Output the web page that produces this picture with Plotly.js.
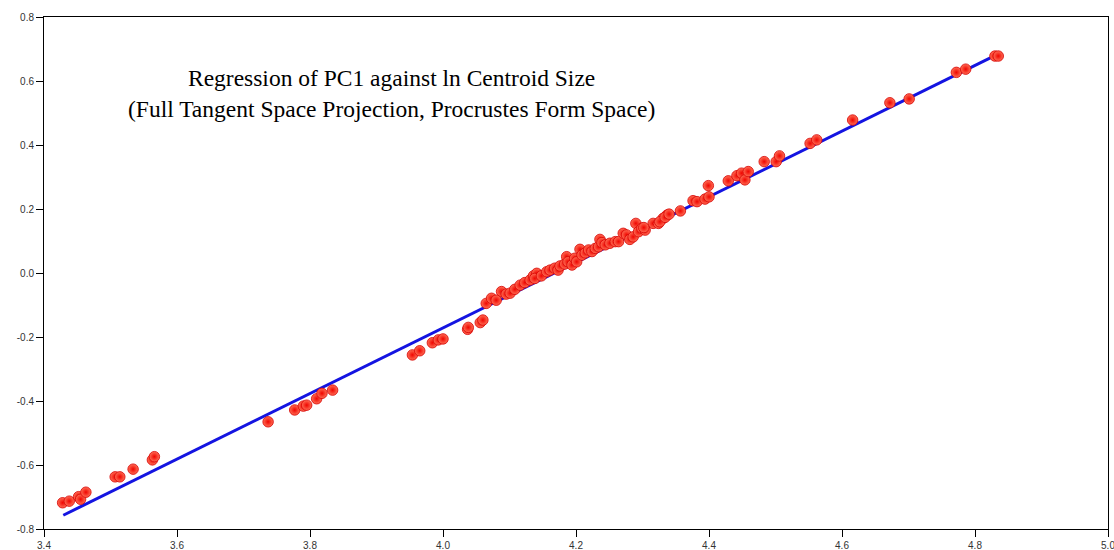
<!DOCTYPE html>
<html>
<head>
<meta charset="utf-8">
<script src="https://cdn.plot.ly/plotly-3.0.1.min.js"></script>
<style>html,body{margin:0;padding:0;background:#fff;}#chart{width:1114px;height:550px;}</style>
</head>
<body>
<div id="chart"></div>
<script>
// ln Centroid Size (x) and PC1 score (y) for each specimen
const lnCentroidSize = [
  3.428, 3.438, 3.452, 3.455, 3.463, 3.507, 3.514, 3.534, 3.563, 3.566,
  3.737, 3.777, 3.790, 3.795, 3.810, 3.818, 3.834,
  3.954, 3.965, 3.984, 3.993, 4.000, 4.037, 4.038, 4.056, 4.060, 4.065,
  4.073, 4.088, 4.080, 4.095,
  4.101, 4.108, 4.116, 4.123, 4.131, 4.136, 4.141, 4.138, 4.148, 4.156,
  4.161, 4.168, 4.173, 4.176, 4.183, 4.186, 4.188, 4.194, 4.198, 4.201,
  4.206, 4.209, 4.214, 4.219, 4.224, 4.229, 4.234, 4.236, 4.239, 4.244,
  4.251, 4.259, 4.264, 4.271, 4.276, 4.281, 4.286, 4.290, 4.294, 4.299,
  4.304, 4.316, 4.324, 4.331, 4.337, 4.302, 4.326, 4.334, 4.340,
  4.357, 4.376, 4.382, 4.394, 4.400, 4.399, 4.429, 4.442, 4.449, 4.454,
  4.459, 4.483, 4.501, 4.506, 4.552, 4.562, 4.616, 4.672, 4.701, 4.772,
  4.786, 4.830, 4.835
];
const pc1Score = [
  -0.718, -0.713, -0.699, -0.707, -0.685, -0.637, -0.637, -0.613, -0.584, -0.574,
  -0.465, -0.428, -0.416, -0.413, -0.393, -0.376, -0.366,
  -0.256, -0.243, -0.218, -0.209, -0.206, -0.176, -0.170, -0.155, -0.147, -0.095,
  -0.079, -0.058, -0.085, -0.066,
  -0.063, -0.051, -0.038, -0.030, -0.022, -0.009, -0.001, -0.017, -0.009, 0.004,
  0.009, 0.015, 0.009, 0.022, 0.028, 0.051, 0.035, 0.025, 0.046, 0.035,
  0.074, 0.056, 0.063, 0.072, 0.067, 0.077, 0.082, 0.105, 0.095, 0.088,
  0.093, 0.098, 0.098, 0.124, 0.119, 0.105, 0.113, 0.155, 0.129, 0.140,
  0.134, 0.155, 0.155, 0.171, 0.181, 0.142, 0.160, 0.174, 0.184,
  0.194, 0.226, 0.223, 0.231, 0.238, 0.273, 0.288, 0.304, 0.312, 0.291,
  0.317, 0.348, 0.348, 0.366, 0.405, 0.416, 0.478, 0.532, 0.544, 0.627,
  0.637, 0.678, 0.678
];
// fitted regression line end points
const fitX = [3.429, 4.823];
const fitY = [-0.757, 0.672];

const xTickVals = [3.4, 3.6, 3.8, 4.0, 4.2, 4.4, 4.6, 4.8, 5.0];
const xTickText = ["3.4", "3.6", "3.8", "4.0", "4.2", "4.4", "4.6", "4.8", "5.0"];
const yTickVals = [-0.8, -0.6, -0.4, -0.2, 0.0, 0.2, 0.4, 0.6, 0.8];
const yTickText = ["-0.8", "-0.6", "-0.4", "-0.2", "0.0", "0.2", "0.4", "0.6", "0.8"];

const titleText = "Regression of PC1 against ln Centroid Size<br>(Full Tangent Space Projection, Procrustes Form Space)";

const traces = [
  {
    x: fitX, y: fitY, type: "scatter", mode: "lines",
    line: {color: "rgb(20,20,225)", width: 3},
    hoverinfo: "skip"
  },
  {
    x: lnCentroidSize, y: pc1Score, type: "scatter", mode: "markers",
    marker: {
      size: 10.5, color: "rgb(255,110,85)",
      gradient: {type: "radial", color: "rgb(240,5,0)"},
      line: {color: "rgb(215,0,0)", width: 0.8}
    }
  }
];

const axisCommon = {
  showgrid: false, zeroline: false, showline: true, mirror: true,
  linecolor: "#000", linewidth: 1, ticks: "outside", ticklen: 7,
  tickcolor: "#000", tickwidth: 1, ticklabeloverflow: "allow",
  tickfont: {family: "Liberation Sans, Arial, sans-serif", size: 10, color: "#333"}
};

const layout = {
  width: 1114, height: 550,
  margin: {l: 44, r: 6, t: 17, b: 21, pad: 0},
  paper_bgcolor: "#fff", plot_bgcolor: "#fff",
  showlegend: false,
  xaxis: Object.assign({}, axisCommon, {range: [3.4, 5.0], tickmode: "array", tickvals: xTickVals, ticktext: xTickText}),
  yaxis: Object.assign({}, axisCommon, {range: [-0.8, 0.8], tickmode: "array", tickvals: yTickVals, ticktext: yTickText}),
  annotations: [{
    text: titleText, xref: "paper", yref: "paper", x: 0.327, y: 0.851,
    xanchor: "center", yanchor: "middle", showarrow: false, align: "center",
    font: {family: "Liberation Serif, Times New Roman, serif", size: 23.5, color: "#000"}
  }]
};

Plotly.newPlot("chart", traces, layout, {displayModeBar: false, staticPlot: true});
</script>
</body>
</html>
